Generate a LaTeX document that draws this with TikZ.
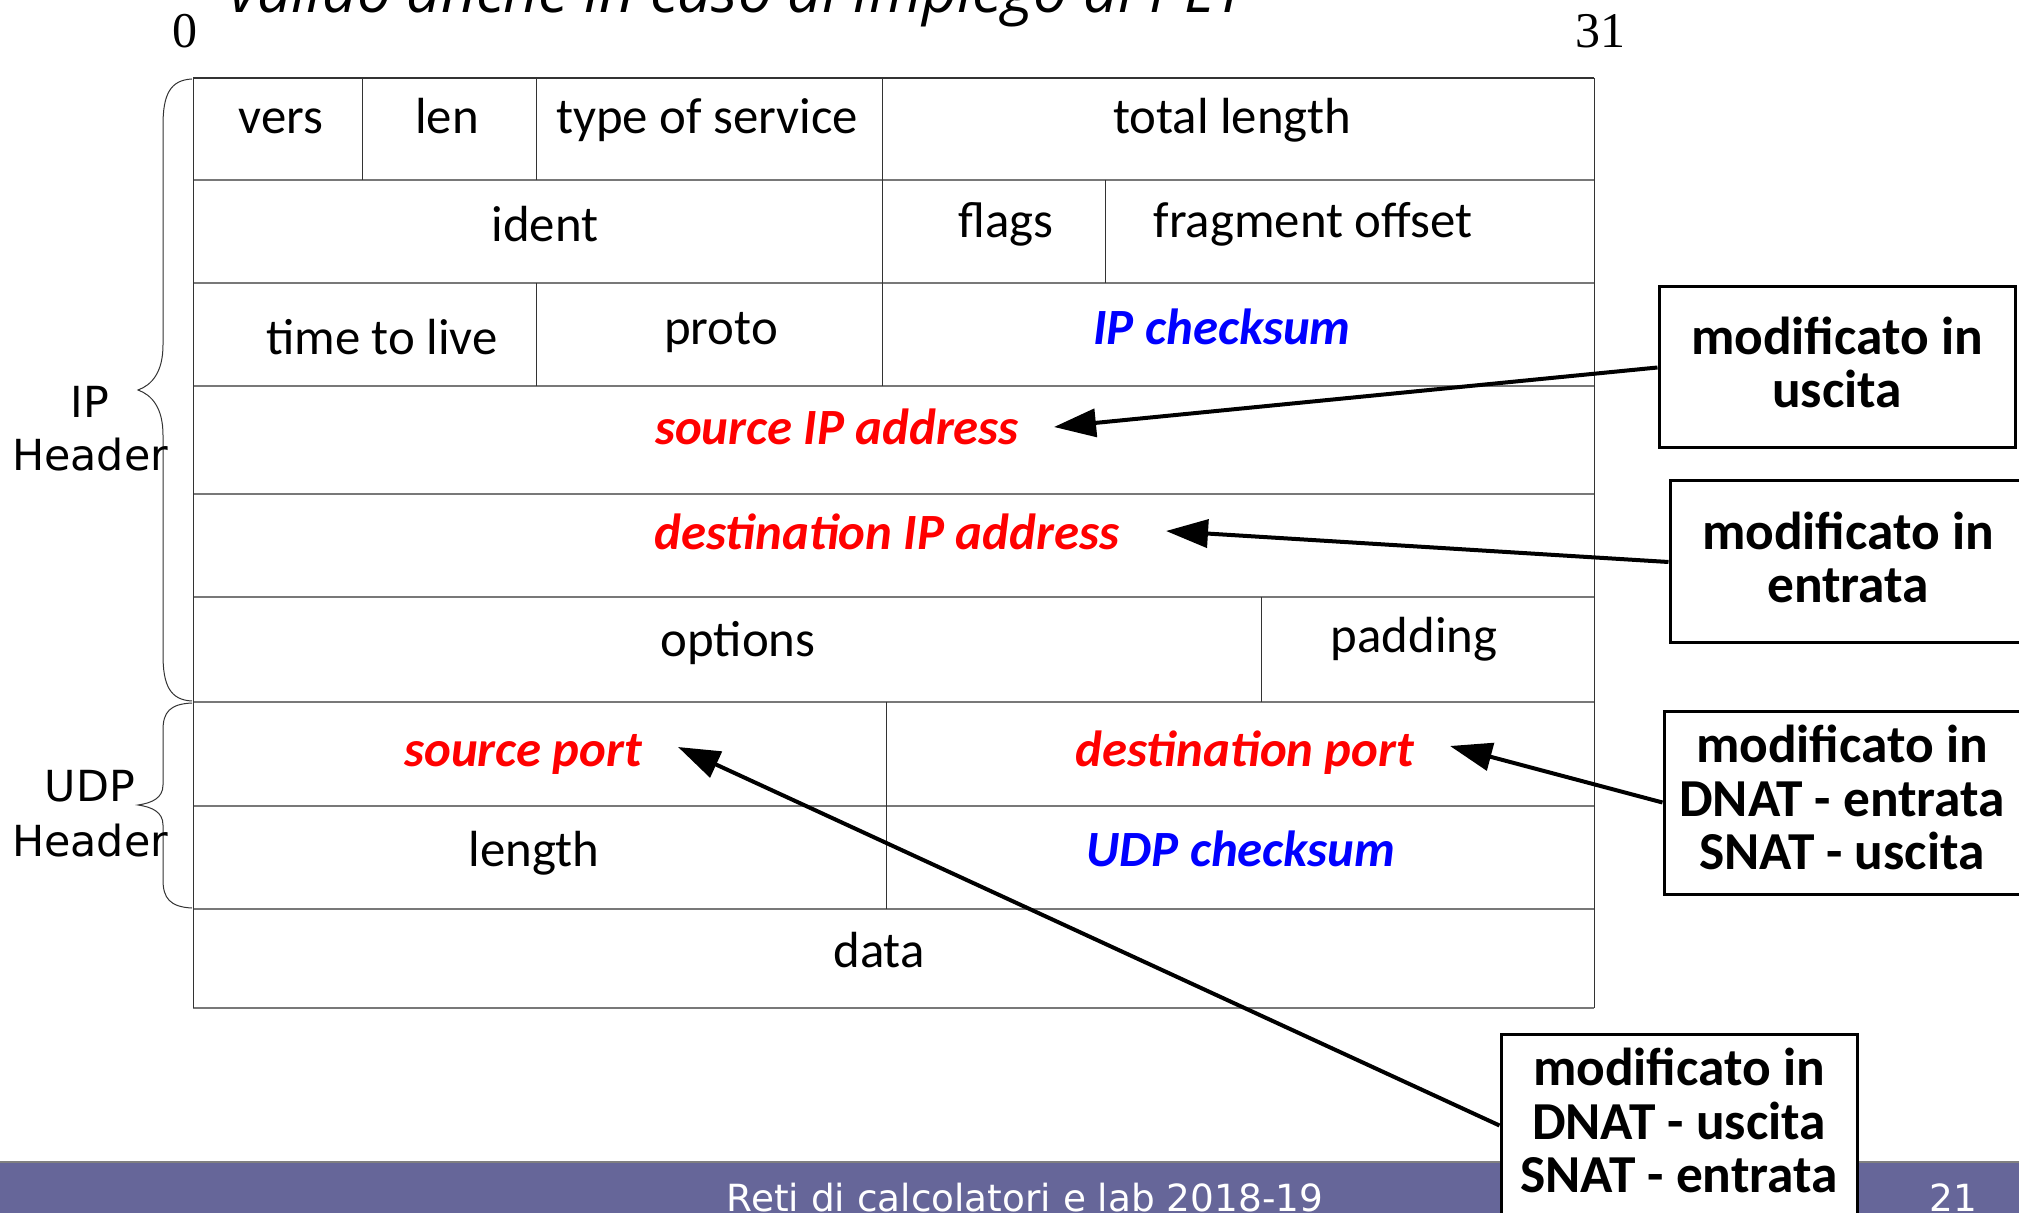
\documentclass[tikz,border=0pt]{standalone}
\usepackage{fontspec}
\setmainfont{Carlito}
\newfontfamily\dvfont{DejaVu Sans}
\newfontfamily\numfont{Liberation Serif}
\newfontfamily\ttlfont{Open Sans}
\usetikzlibrary{arrows.meta}
\definecolor{footerblue}{RGB}{102,102,153}
\definecolor{hgray}{RGB}{120,120,120}
\begin{document}
\begin{tikzpicture}[x=0.5pt,y=-0.5pt,
  cell/.style={font=\fontsize{25.4}{30}\selectfont, anchor=base, inner sep=0pt},
  hotred/.style={cell, text=red, font=\fontsize{25.4}{30}\selectfont\bfseries\itshape},
  hotblue/.style={cell, text=blue, font=\fontsize{25.4}{30}\selectfont\bfseries\itshape},
  hline/.style={draw=hgray, line width=0.75pt},
  vline/.style={draw=black!80, line width=0.5pt},
  note/.style={draw=black, line width=1.5pt, fill=white, align=center, inner sep=0pt,
     minimum width=178pt, font=\fontsize{26.7}{26.7}\selectfont\bfseries,
     execute at end node={\rule[-5pt]{0pt}{5pt}}},
  arr/.style={draw=black, line width=2pt, -{Triangle[length=21pt,width=14pt]}},
  brace/.style={draw=black!80, line width=0.5pt},
  side/.style={font=\dvfont\fontsize{21.4}{26}\selectfont, anchor=base, inner sep=0pt},
  bitnum/.style={font=\numfont\fontsize{25}{30}\selectfont, anchor=base, inner sep=0pt}
]
\useasboundingbox (0,0) rectangle (2019,1213);

% title (cut off at top)
\node[anchor=base west, inner sep=0pt, font=\ttlfont\itshape\fontsize{30.3}{34}\selectfont] (title) at (229,13) {valido anche in caso di impiego di PET};

% bit numbers
\node[bitnum] (b0) at (185,48) {0};
\node[bitnum] (b31) at (1600,48) {31};

% table grid
\foreach \yy in {180,283,386,494,597,702,806,909} \draw[hline] (193,\yy) -- (1594,\yy);
\draw[hline] (193,1008) -- (1594,1008);
\draw[draw=black!80, line width=0.6pt] (193,78) -- (1594,78);
\draw[vline] (193,78) -- (193,1008);
\draw[vline] (1594,78) -- (1594,1008);
\foreach \xx in {362,536,882} \draw[vline] (\xx,78) -- (\xx,180);
\foreach \xx in {882,1105} \draw[vline] (\xx,180) -- (\xx,283);
\foreach \xx in {536,882} \draw[vline] (\xx,283) -- (\xx,386);
\draw[vline] (1261,597) -- (1261,702);
\draw[vline] (886,702) -- (886,909);

% cell texts
\node[cell] (vers) at (281,134) {vers};
\node[cell] (len) at (447,134) {len};
\node[cell] (tos) at (707,134) {type of service};
\node[cell] (tlen) at (1232,134) {total length};
\node[cell] (ident) at (545,242) {ident};
\node[cell] (flags) at (1006,238) {flags};
\node[cell] (frag) at (1313,238) {fragment offset};
\node[cell] (ttl) at (382,355) {time to live};
\node[cell] (proto) at (721,345) {proto};
\node[hotblue] (ipck) at (1222,345) {IP checksum};
\node[hotred] (srcip) at (837,445) {source IP address};
\node[hotred] (dstip) at (887,550) {destination IP address};
\node[cell] (opts) at (738,657) {options};
\node[cell] (pad) at (1414,653) {padding};
\node[hotred] (sport) at (523,766) {source port};
\node[hotred] (dport) at (1245,766) {destination port};
\node[cell] (ulen) at (534,866) {length};
\node[hotblue] (udpck) at (1241,866) {UDP checksum};
\node[cell] (data) at (879,967) {data};

% braces
\draw[brace] (192,79) .. controls (170,80) and (163,95) .. (163,125) -- (163,345)
  .. controls (163,372) and (152,385) .. (138,390)
  .. controls (152,395) and (163,408) .. (163,435) -- (163,655)
  .. controls (163,685) and (170,700) .. (192,701);
\draw[brace] (192,703) .. controls (170,704) and (163,712) .. (163,730) -- (163,785)
  .. controls (163,798) and (152,803) .. (138,805)
  .. controls (152,807) and (163,812) .. (163,825) -- (163,880)
  .. controls (163,898) and (170,907) .. (192,908);
\node[side] (ip1) at (90,418) {IP};
\node[side] (ip2) at (90,471) {Header};
\node[side] (udp1) at (90,801) {UDP};
\node[side] (udp2) at (90,856) {Header};

% footer
\fill[footerblue] (0,1162) rectangle (2019,1213);
\draw[draw=black!50, line width=0.6pt] (0,1162) -- (2019,1162);
\node[anchor=base, inner sep=0pt, text=white, font=\dvfont\fontsize{18.7}{22}\selectfont] (foot) at (1025,1211) {Reti di calcolatori e lab 2018-19};
\node[anchor=base, inner sep=0pt, text=white, font=\dvfont\fontsize{18.7}{22}\selectfont] (page) at (1953,1211) {21};

% notes
\node[note, minimum height=80.5pt] (n1) at (1837,367.5) {modificato in\\uscita};
\node[note, minimum height=81pt] (n2) at (1848,562) {modificato in\\entrata};
\node[note, minimum height=91.5pt] (n3) at (1842,802.5) {modificato in\\DNAT - entrata\\SNAT - uscita};
\node[note, minimum height=91.5pt] (n4) at (1679,1125.5) {modificato in\\DNAT - uscita\\SNAT - entrata};

% arrow tips
\coordinate (t1) at (1054,427);
\coordinate (t2) at (1166,531);
\coordinate (t3) at (1450,746);
\coordinate (t4) at (678,747);
\draw[arr] (n1.west) -- (t1);
\draw[arr] (n2.west) -- (t2);
\draw[arr] (n3.west) -- (t3);
\draw[arr] (n4.west) -- (t4);
\end{tikzpicture}
\end{document}
